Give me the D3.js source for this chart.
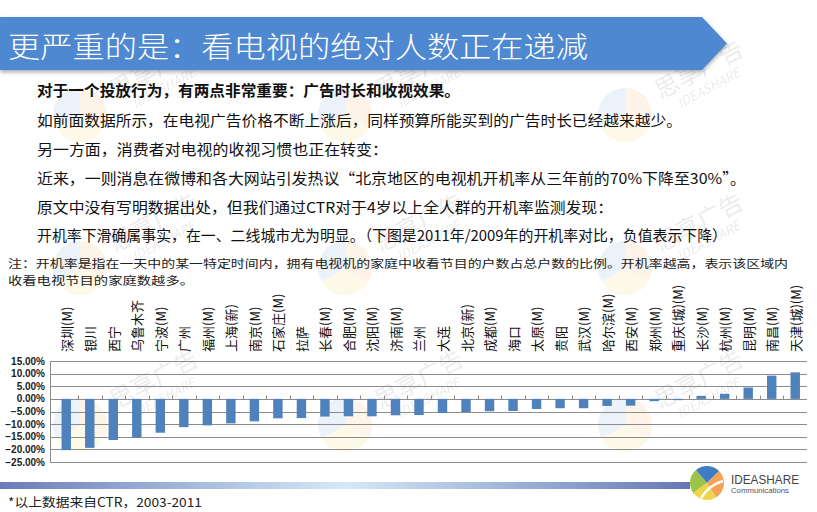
<!DOCTYPE html>
<meta charset="utf-8">
<title>开机率对比</title>
<style>
body { margin: 0; background: #fff; }
svg { display: block; font-family: "Noto Sans CJK SC", "Noto Sans", sans-serif; }
.grid line { stroke: #8c8c8c; stroke-width: 1; }
.ylab { font-family: "Liberation Sans", Arial, sans-serif; font-size: 10px; font-weight: bold; fill: #222; }
.cat { font-size: 13px; fill: #111; }
.bar { fill: #4f81bd; }
.body { font-size: 15px; fill: #111; }
</style>
<svg width="817" height="512"></svg>
<script src="https://d3js.org/d3.v7.min.js"></script>
<script>

// data (2011 vs 2009 TV-on rate change, %)
var cities = ["深圳(M)", "银川", "西宁", "乌鲁木齐", "宁波(M)", "广州", "福州(M)", "上海(新)",
    "南京(M)", "石家庄(M)", "拉萨", "长春(M)", "合肥(M)", "沈阳(M)", "济南(M)", "兰州",
    "大连", "北京(新)", "成都(M)", "海口", "太原(M)", "贵阳", "武汉(M)", "哈尔滨(M)",
    "西安(M)", "郑州(M)", "重庆(城)(M)", "长沙(M)", "杭州(M)", "昆明(M)", "南昌(M)", "天津(城)(M)"];
var change = [-20.3, -19.4, -16.3, -15.3, -13.4, -11.2, -10.5, -9.7,
    -8.9, -7.7, -7.6, -7.0, -6.9, -6.9, -6.5, -6.4,
    -5.6, -5.2, -4.9, -4.8, -4.0, -3.7, -3.7, -2.8,
    -2.7, -0.9, -0.5, 1.2, 2.0, 4.5, 9.2, 10.5];
var yTicks = [15, 10, 5, 0, -5, -10, -15, -20, -25];

var title = "更严重的是：看电视的绝对人数正在递减";
var bodyLines = [
    "对于一个投放行为，有两点非常重要：广告时长和收视效果。",
    "如前面数据所示，在电视广告价格不断上涨后，同样预算所能买到的广告时长已经越来越少。",
    "另一方面，消费者对电视的收视习惯也正在转变：",
    "近来，一则消息在微博和各大网站引发热议“北京地区的电视机开机率从三年前的70%下降至30%”。",
    "原文中没有写明数据出处，但我们通过CTR对于4岁以上全人群的开机率监测发现：",
    "开机率下滑确属事实，在一、二线城市尤为明显。（下图是2011年/2009年的开机率对比，负值表示下降）"
];
var noteLines = [
    "注：开机率是指在一天中的某一特定时间内，拥有电视机的家庭中收看节目的户数占总户数的比例。开机率越高，表示该区域内",
    "收看电视节目的家庭数越多。"
];
var source = "*以上数据来自CTR，2003-2011";

var svg = d3.select("svg");
var defs = svg.append("defs");

// faint watermarks
var wm = svg.append("g").attr("class", "watermarks");
var wmCols = [80, 345, 625], wmRows = [115, 268, 425];
var wmColors = ["#f5a04a", "#f3d34a", "#6b9bd6"];
wmRows.forEach(function(cy) {
    wmCols.forEach(function(cx) {
        var arc = d3.arc().innerRadius(0).outerRadius(27);
        var pie = d3.pie().sort(null)([1, 1, 1]);
        wm.append("g").attr("transform", "translate(" + cx + "," + cy + ")")
            .attr("opacity", 0.12)
            .selectAll("path").data(pie).enter().append("path")
            .attr("d", arc)
            .attr("fill", function(d, i) { return wmColors[i]; });
        var t = wm.append("g").attr("transform", "translate(" + (cx + 78) + "," + (cy - 38) + ") rotate(-28)")
            .attr("opacity", 0.11);
        t.append("text").attr("text-anchor", "middle").attr("font-size", 24).attr("fill", "#555").text("思享广告");
        t.append("text").attr("text-anchor", "middle").attr("y", 17).attr("font-size", 13)
            .attr("font-style", "italic").attr("fill", "#555").text("IDEASHARE");
    });
});

// title banner
var shadow = defs.append("filter").attr("id", "sh").attr("x", "-5%").attr("y", "-20%").attr("width", "110%").attr("height", "160%");
shadow.append("feGaussianBlur").attr("in", "SourceAlpha").attr("stdDeviation", 2);
shadow.append("feOffset").attr("dy", 2).attr("result", "b");
shadow.append("feComponentTransfer").append("feFuncA").attr("type", "linear").attr("slope", 0.35);
var mrg = shadow.append("feMerge");
mrg.append("feMergeNode");
mrg.append("feMergeNode").attr("in", "SourceGraphic");

svg.append("path")
    .attr("d", "M0,17 L702,17 L727,43.5 L702,70 L0,70 Z")
    .attr("fill", "#4d88d0")
    .attr("filter", "url(#sh)");
svg.append("text")
    .attr("x", 8).attr("y", 45)
    .attr("dominant-baseline", "central")
    .attr("font-size", 29).attr("font-weight", 300)
    .attr("fill", "#fff")
    .attr("textLength", 580).attr("lengthAdjust", "spacingAndGlyphs")
    .text(title);

// body text
var bodyY = [89, 119, 148, 177, 206, 234];
var bodyEnd = [460, 682, 388, 746, 613, 727];
svg.selectAll(".body").data(bodyLines).enter().append("text")
    .attr("class", "body")
    .attr("x", 37)
    .attr("y", function(d, i) { return bodyY[i]; })
    .attr("dominant-baseline", "central")
    .attr("font-weight", function(d, i) { return i == 0 ? "bold" : "normal"; })
    .attr("textLength", function(d, i) { return bodyEnd[i] - 37; })
    .attr("lengthAdjust", "spacingAndGlyphs")
    .text(function(d) { return d; });

var noteY = [263, 280], noteEnd = [788, 194];
svg.selectAll(".note").data(noteLines).enter().append("text")
    .attr("class", "note")
    .attr("x", 8)
    .attr("y", function(d, i) { return noteY[i]; })
    .attr("dominant-baseline", "central")
    .attr("font-size", 11.5).attr("fill", "#222")
    .attr("textLength", function(d, i) { return noteEnd[i] - 8; })
    .attr("lengthAdjust", "spacingAndGlyphs")
    .text(function(d) { return d; });

// chart
var x = d3.scaleBand().domain(cities).range([54.5, 807]).paddingInner(0.6).paddingOuter(0.3);
var y = d3.scaleLinear().domain([-25, 15]).range([462, 361]);
var bw = x.bandwidth(), step = x.step();

var chart = svg.append("g");
chart.append("g").attr("class", "grid")
    .selectAll("line").data(yTicks).enter().append("line")
    .attr("x1", 50).attr("x2", 807)
    .attr("y1", function(d) { return Math.round(y(d)) + 0.5; })
    .attr("y2", function(d) { return Math.round(y(d)) + 0.5; });
chart.append("line")
    .attr("x1", 50.5).attr("x2", 50.5)
    .attr("y1", Math.round(y(15)) + 0.5).attr("y2", Math.round(y(-25)) + 0.5)
    .attr("stroke", "#8c8c8c");

chart.selectAll(".ylab").data(yTicks).enter().append("text")
    .attr("class", "ylab")
    .attr("x", 45)
    .attr("y", function(d) { return y(d); })
    .attr("dy", "0.35em")
    .attr("text-anchor", "end")
    .text(function(d) { return d3.format(".2f")(d) + "%"; });

chart.selectAll(".bar").data(cities).enter().append("rect")
    .attr("class", "bar")
    .attr("x", function(d) { return x(d); })
    .attr("width", bw)
    .attr("y", function(d, i) { return y(Math.max(0, change[i])); })
    .attr("height", function(d, i) { return Math.abs(y(change[i]) - y(0)); });

// category axis at zero with tick marks between categories
var y0 = Math.round(y(0)) + 0.5;
chart.selectAll(".xtick").data(cities.slice(1)).enter().append("line")
    .attr("class", "xtick")
    .attr("x1", function(d) { return Math.round(x(d) - (step - bw) / 2) + 0.5; })
    .attr("x2", function(d) { return Math.round(x(d) - (step - bw) / 2) + 0.5; })
    .attr("y1", y0 - 4).attr("y2", y0)
    .attr("stroke", "#8c8c8c");

chart.selectAll(".cat").data(cities).enter().append("text")
    .attr("class", "cat")
    .attr("transform", function(d) { return "translate(" + (x(d) + bw / 2) + ",352) rotate(-90)"; })
    .attr("dominant-baseline", "central")
    .text(function(d) { return d; });

// footer bar
var fg = defs.append("linearGradient").attr("id", "fg");
fg.append("stop").attr("offset", "0").attr("stop-color", "#6a7cbc");
fg.append("stop").attr("offset", "0.5").attr("stop-color", "#d4eaf7");
fg.append("stop").attr("offset", "1").attr("stop-color", "#6677b7");
svg.append("rect").attr("x", 0).attr("y", 482).attr("width", 690).attr("height", 7).attr("fill", "url(#fg)");

svg.append("text")
    .attr("x", 8).attr("y", 501)
    .attr("dominant-baseline", "central")
    .attr("font-size", 12.5).attr("fill", "#222")
    .attr("textLength", 194).attr("lengthAdjust", "spacingAndGlyphs")
    .text(source);

// logo
var logo = svg.append("g").attr("transform", "translate(707,483)");
var lpie = d3.pie().sort(null).startAngle(-2.2).endAngle(-2.2 + 2 * Math.PI)([1, 1, 1.2, 1]);
var logoCols = ["#9cc44a", "#3f7cc4", "#f4a259", "#efd54c"];
logo.selectAll("path").data(lpie).enter().append("path")
    .attr("d", d3.arc().innerRadius(0).outerRadius(17))
    .attr("fill", function(d, i) { return logoCols[i]; });
logo.append("path").attr("d", "M-6,15 Q2,2 16,-2").attr("stroke", "#fff").attr("stroke-width", 2.5).attr("fill", "none");
svg.append("text").attr("x", 731).attr("y", 479).attr("dominant-baseline", "central")
    .attr("font-family", "Liberation Sans, Arial, sans-serif").attr("font-size", 13).attr("fill", "#444")
    .attr("textLength", 68).attr("lengthAdjust", "spacingAndGlyphs").text("IDEASHARE");
svg.append("text").attr("x", 731).attr("y", 490).attr("dominant-baseline", "central")
    .attr("font-family", "Liberation Sans, Arial, sans-serif").attr("font-size", 8).attr("fill", "#555")
    .attr("textLength", 58).attr("lengthAdjust", "spacingAndGlyphs").text("Communications");

</script>
